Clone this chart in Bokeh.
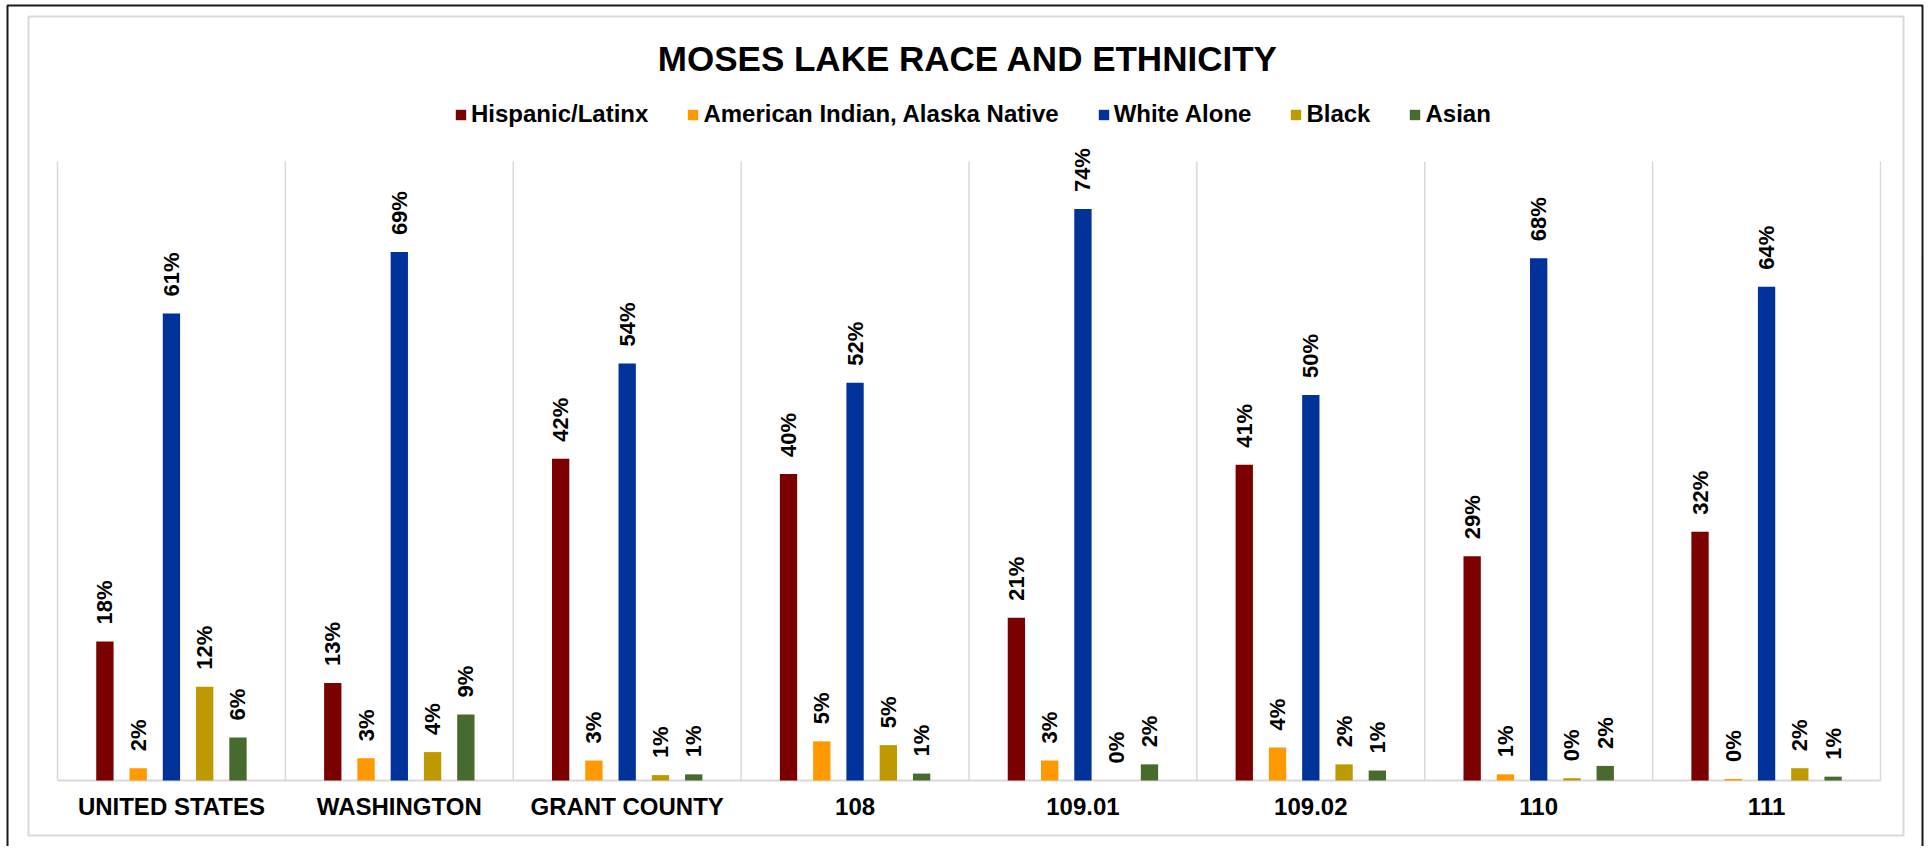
import math
from bokeh.plotting import figure
from bokeh.models import Range1d, Legend, LegendItem
from bokeh.core.properties import value
from bokeh.embed import file_html
from bokeh.resources import INLINE

# ---------------- data ----------------
categories = ["UNITED STATES", "WASHINGTON", "GRANT COUNTY", "108",
              "109.01", "109.02", "110", "111"]
series_names = ["Hispanic/Latinx", "American Indian, Alaska Native",
                "White Alone", "Black", "Asian"]
hispanic = [0.181, 0.127, 0.419, 0.399, 0.212, 0.411, 0.292, 0.324]
american_indian = [0.016, 0.029, 0.026, 0.051, 0.026, 0.043, 0.008, 0.002]
white_alone = [0.608, 0.688, 0.543, 0.518, 0.744, 0.502, 0.680, 0.643]
black = [0.122, 0.037, 0.007, 0.046, 0.000, 0.021, 0.003, 0.016]
asian = [0.056, 0.086, 0.008, 0.009, 0.021, 0.013, 0.019, 0.005]
series_colors = ["#7B0000", "#FF9900", "#003399", "#BF9900", "#476A2F"]
title_text = "MOSES LAKE RACE AND ETHNICITY"

series_values = [hispanic, american_indian, white_alone, black, asian]

# ---------------- layout (page pixels; canvas sits at page 0,0) ----------------
W, H = 1925, 846
PLOT_LEFT_PX = 57
PLOT_RIGHT_PX = 1880
CAT_W_PX = (PLOT_RIGHT_PX - PLOT_LEFT_PX) / len(categories)
BASE_PX = 780
PX_PER_UNIT = 768.0
FONT = "Liberation Sans"


def px2x(px):
    return (px - PLOT_LEFT_PX) / CAT_W_PX


def px2y(py):
    return (BASE_PX - py) / PX_PER_UNIT


p = figure(width=W, height=H, output_backend="svg", toolbar_location=None,
           tools="", x_range=Range1d(px2x(0), px2x(W)),
           y_range=Range1d(px2y(H), px2y(0)),
           x_axis_location=None, y_axis_location=None, min_border=0)
p.grid.visible = False
p.outline_line_color = None
p.background_fill_color = "white"
p.border_fill_color = "white"

# outer dark frame (open at bottom) and inner light chart-area frame
p.line(x=[px2x(7), px2x(7), px2x(1922), px2x(1922)],
       y=[px2y(900), px2y(5), px2y(5), px2y(900)],
       line_color="#1a1a1a", line_width=2)
p.quad(left=[px2x(28)], right=[px2x(1903)], top=[px2y(16)], bottom=[px2y(835)],
       fill_color=None, line_color="#d9d9d9", line_width=2)

# vertical category separators and baseline
n = len(categories)
p.segment(x0=list(range(n + 1)), y0=[0] * (n + 1),
          x1=list(range(n + 1)), y1=[px2y(161)] * (n + 1),
          line_color="#d9d9d9", line_width=1.5)
p.segment(x0=[0], y0=[0], x1=[n], y1=[0], line_color="#d9d9d9", line_width=2)

# bars + data labels
STEP = 0.146
BAR_W = 0.076
items = []
for k, (name, vals, color) in enumerate(zip(series_names, series_values, series_colors)):
    off = (k - 2) * STEP
    xs = [i + 0.5 + off for i in range(n)]
    r = p.vbar(x=xs, top=vals, bottom=0, width=BAR_W,
               fill_color=color, line_color=None)
    labels = ["%d%%" % int(v * 100 + 0.5) for v in vals]
    p.text(x=xs, y=vals, text=labels, angle=math.pi / 2,
           text_align="left", text_baseline="middle", y_offset=-17,
           text_font=value(FONT), text_font_style="bold",
           text_font_size="22px", text_color="#000000")
    items.append(LegendItem(label=name, renderers=[r]))

# category labels
p.text(x=[i + 0.5 for i in range(n)], y=[px2y(806)] * n, text=categories,
       text_align="center", text_baseline="alphabetic",
       text_font=value(FONT), text_font_style="bold",
       text_font_size="24px", text_color="#000000")

# title
p.text(x=[px2x(967.5)], y=[px2y(57.5)], text=[title_text],
       text_align="center", text_baseline="alphabetic",
       text_font=value(FONT), text_font_style="bold",
       text_font_size="35px", text_color="#000000")

legend = Legend(items=items, orientation="horizontal",
                location=(454, H - 128),
                glyph_width=13, glyph_height=13, label_standoff=4,
                spacing=38, padding=0, margin=0,
                border_line_color=None, background_fill_alpha=0,
                label_text_font=FONT, label_text_font_style="bold",
                label_text_font_size="24px", label_text_color="#000000")
p.add_layout(legend)

open("out.html", "w").write(file_html(p, INLINE))
